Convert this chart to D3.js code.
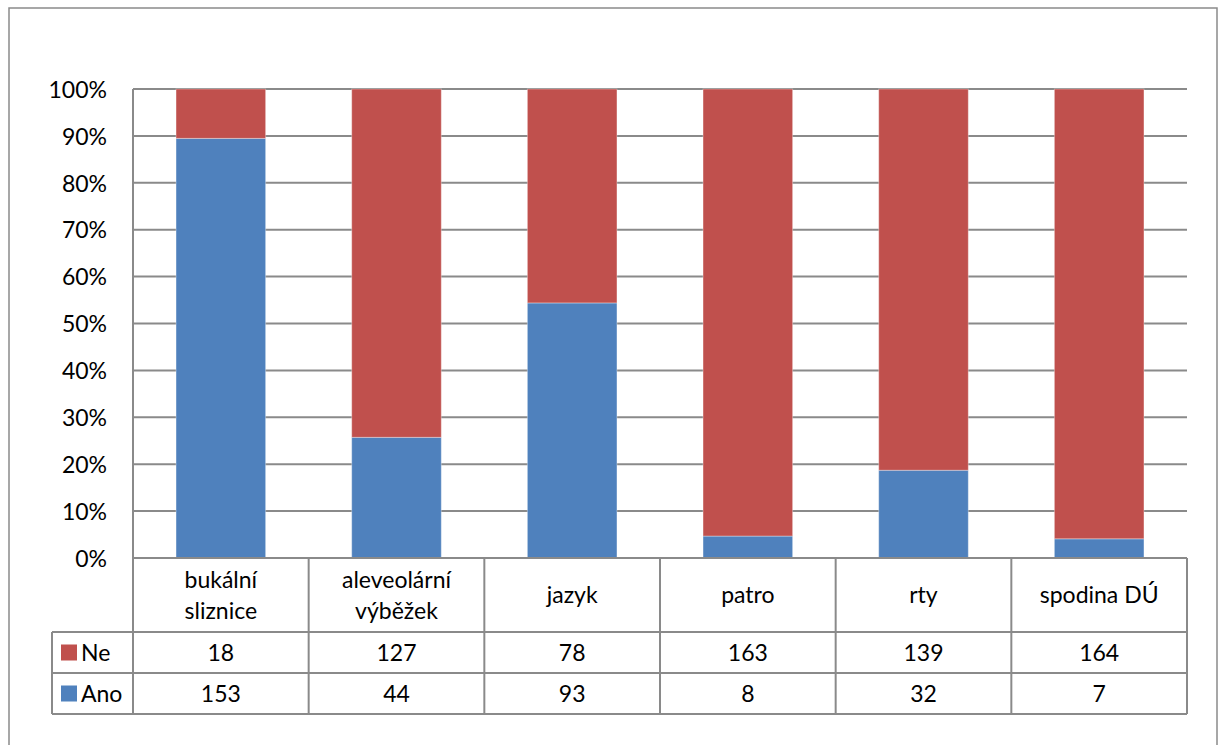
<!DOCTYPE html>
<html>
<head>
<meta charset="utf-8">
<script src="https://cdn.jsdelivr.net/npm/d3@7"></script>
<style>
  html, body { margin: 0; padding: 0; background: #fff; }
  svg { display: block; font-family: Lato, "Open Sans", sans-serif; }
</style>
</head>
<body>
<svg id="chart" width="1219" height="745"></svg>
<script>
// Categories (each label may break over two lines)
const categories = [
  ["bukální", "sliznice"],
  ["aleveolární", "výběžek"],
  ["jazyk"],
  ["patro"],
  ["rty"],
  ["spodina DÚ"]
];
const seriesNames = ["Ano", "Ne"];
const ano = [153, 44, 93, 8, 32, 7];
const ne = [18, 127, 78, 163, 139, 164];
const yTicks = [0, 0.1, 0.2, 0.3, 0.4, 0.5, 0.6, 0.7, 0.8, 0.9, 1.0];

const colors = { Ano: "#4F81BD", Ne: "#C0504D" };
const gridColor = "#8a8a8a";
const fontSize = 23;

const svg = d3.select("#chart");

// Layout
const plot = { left: 133, right: 1187, top: 89, bottom: 558 };
const table = { left: 52, catBottom: 632, neBottom: 673, anoBottom: 714 };

// Outer chart frame
svg.append("rect")
  .attr("x", 9).attr("y", 8).attr("width", 1208).attr("height", 745)
  .attr("fill", "#fff").attr("stroke", gridColor).attr("stroke-width", 1.5);

const x = d3.scaleBand()
  .domain(d3.range(categories.length))
  .range([plot.left, plot.right])
  .paddingInner(0.49).paddingOuter(0.245);

const xCell = d3.scaleBand()
  .domain(d3.range(categories.length))
  .range([plot.left, plot.right]);

const y = d3.scaleLinear().domain([0, 1]).range([plot.bottom, plot.top]);

// Gridlines
svg.append("g")
  .selectAll("line")
  .data(yTicks)
  .join("line")
  .attr("x1", plot.left).attr("x2", plot.right)
  .attr("y1", d => y(d)).attr("y2", d => y(d))
  .attr("stroke", gridColor).attr("stroke-width", 2);

// Y axis labels
const yAxis = d3.axisLeft(y).tickValues(yTicks).tickSize(0).tickPadding(0)
  .tickFormat(d3.format(".0%"));
const yg = svg.append("g").attr("transform", `translate(107,0)`).call(yAxis);
yg.select(".domain").remove();
yg.selectAll("text")
  .attr("font-family", "Lato, sans-serif")
  .attr("font-size", fontSize).attr("fill", "#000")
  .attr("dy", "0.36em");

// Stacked 100% data
const rows = categories.map((c, i) => ({ i, Ano: ano[i], Ne: ne[i] }));
const stack = d3.stack().keys(seriesNames).offset(d3.stackOffsetExpand);
const layers = stack(rows);

svg.append("g")
  .selectAll("g")
  .data(layers)
  .join("g")
  .attr("fill", d => colors[d.key])
  .selectAll("rect")
  .data(d => d)
  .join("rect")
  .attr("x", d => x(d.data.i))
  .attr("width", x.bandwidth())
  .attr("y", d => y(d[1]))
  .attr("height", d => y(d[0]) - y(d[1]))
  .attr("stroke", "rgba(255,255,255,0.35)")
  .attr("stroke-width", 1);

// Left axis line
svg.append("line")
  .attr("x1", plot.left).attr("x2", plot.left)
  .attr("y1", plot.top).attr("y2", table.anoBottom)
  .attr("stroke", gridColor).attr("stroke-width", 2);

// Data table
const tg = svg.append("g").attr("stroke", gridColor).attr("stroke-width", 2);
// horizontal lines
[[plot.left, plot.bottom], [table.left, table.catBottom], [table.left, table.neBottom], [table.left, table.anoBottom]]
  .forEach(([x0, yy]) => {
    tg.append("line").attr("x1", x0).attr("x2", plot.right).attr("y1", yy).attr("y2", yy);
  });
// vertical lines
tg.append("line").attr("x1", table.left).attr("x2", table.left)
  .attr("y1", table.catBottom).attr("y2", table.anoBottom);
d3.range(1, categories.length + 1).forEach(i => {
  const xx = plot.left + xCell.bandwidth() * i;
  tg.append("line").attr("x1", xx).attr("x2", xx)
    .attr("y1", plot.bottom).attr("y2", table.anoBottom);
});

const textFont = (sel) => sel.attr("font-family", "Lato, sans-serif")
  .attr("font-size", fontSize).attr("fill", "#000").attr("text-anchor", "middle");

// Category labels
const catG = svg.append("g");
categories.forEach((lines, i) => {
  const cx = xCell(i) + xCell.bandwidth() / 2;
  const cy = (plot.bottom + table.catBottom) / 2;
  const lh = 31;
  lines.forEach((t, k) => {
    catG.append("text")
      .call(textFont)
      .attr("x", cx)
      .attr("y", cy + (k - (lines.length - 1) / 2) * lh)
      .attr("dy", "0.36em")
      .text(t);
  });
});

// Value rows
const tableRows = [
  { key: "Ne", values: ne, top: table.catBottom, bottom: table.neBottom },
  { key: "Ano", values: ano, top: table.neBottom, bottom: table.anoBottom }
];
tableRows.forEach(r => {
  const cy = (r.top + r.bottom) / 2;
  svg.append("rect")
    .attr("x", 61).attr("y", cy - 8).attr("width", 16).attr("height", 16)
    .attr("fill", colors[r.key]);
  svg.append("text")
    .attr("font-family", "Lato, sans-serif").attr("font-size", fontSize).attr("fill", "#000")
    .attr("x", 81).attr("y", cy).attr("dy", "0.36em")
    .text(r.key);
  r.values.forEach((v, i) => {
    svg.append("text")
      .call(textFont)
      .attr("x", xCell(i) + xCell.bandwidth() / 2)
      .attr("y", cy).attr("dy", "0.36em")
      .text(v);
  });
});
</script>
</body>
</html>
